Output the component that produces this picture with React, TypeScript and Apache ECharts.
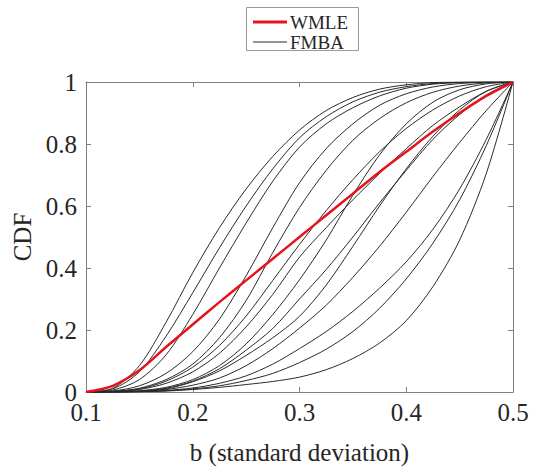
import React, { useEffect, useRef } from "react";
import * as echarts from "echarts";

// b (standard deviation) sample positions
const bValues = [0.1, 0.125, 0.15, 0.175, 0.2, 0.225, 0.25, 0.275, 0.3, 0.325, 0.35, 0.375, 0.4, 0.425, 0.45, 0.475, 0.5];

// WMLE CDF
const wmle = [0, 0.02, 0.07, 0.145, 0.218, 0.29, 0.36, 0.43, 0.5, 0.57, 0.64, 0.71, 0.775, 0.84, 0.9, 0.955, 1];

// FMBA CDFs
const fmba1 = [0, 0.012, 0.085, 0.225, 0.385, 0.53, 0.655, 0.76, 0.845, 0.908, 0.95, 0.977, 0.991, 0.998, 1, 1, 1];
const fmba2 = [0, 0.01, 0.065, 0.18, 0.32, 0.465, 0.6, 0.72, 0.82, 0.888, 0.936, 0.967, 0.985, 0.995, 0.999, 1, 1];
const fmba3 = [0, 0.006, 0.04, 0.12, 0.25, 0.4, 0.545, 0.68, 0.79, 0.865, 0.917, 0.955, 0.98, 0.993, 0.998, 1, 1];
const fmba4 = [0, 0.003, 0.02, 0.06, 0.13, 0.235, 0.375, 0.53, 0.675, 0.785, 0.865, 0.925, 0.962, 0.984, 0.995, 0.999, 1];
const fmba5 = [0, 0.002, 0.012, 0.04, 0.09, 0.175, 0.295, 0.45, 0.595, 0.715, 0.812, 0.882, 0.933, 0.967, 0.987, 0.997, 1];
const fmba6 = [0, 0.002, 0.01, 0.035, 0.08, 0.15, 0.245, 0.36, 0.476, 0.585, 0.685, 0.775, 0.85, 0.91, 0.955, 0.985, 1];
const fmba7 = [0, 0.001, 0.008, 0.028, 0.065, 0.125, 0.21, 0.315, 0.435, 0.53, 0.62, 0.705, 0.785, 0.86, 0.92, 0.97, 1];
const fmba8 = [0, 0, 0.004, 0.015, 0.04, 0.085, 0.155, 0.25, 0.362, 0.49, 0.635, 0.765, 0.865, 0.935, 0.975, 0.994, 1];
const fmba9 = [0, 0, 0.003, 0.012, 0.035, 0.075, 0.135, 0.205, 0.3, 0.395, 0.5, 0.61, 0.715, 0.815, 0.895, 0.958, 1];
const fmba10 = [0, 0, 0.003, 0.01, 0.033, 0.068, 0.118, 0.175, 0.244, 0.345, 0.47, 0.6, 0.72, 0.825, 0.91, 0.97, 1];
const fmba11 = [0, 0, 0.002, 0.008, 0.022, 0.045, 0.085, 0.14, 0.206, 0.28, 0.37, 0.47, 0.58, 0.695, 0.805, 0.908, 1];
const fmba12 = [0, 0, 0.001, 0.005, 0.013, 0.028, 0.052, 0.09, 0.14, 0.195, 0.26, 0.335, 0.42, 0.525, 0.655, 0.815, 1];
const fmba13 = [0, 0, 0.001, 0.004, 0.01, 0.02, 0.037, 0.06, 0.095, 0.138, 0.195, 0.27, 0.365, 0.48, 0.62, 0.795, 1];
const fmba14 = [0, 0, 0.001, 0.003, 0.008, 0.015, 0.024, 0.034, 0.048, 0.072, 0.108, 0.158, 0.23, 0.34, 0.49, 0.705, 1];

const fmbaCurves = [fmba1, fmba2, fmba3, fmba4, fmba5, fmba6, fmba7, fmba8, fmba9, fmba10, fmba11, fmba12, fmba13, fmba14];

const xTicks = { min: 0.1, max: 0.5, interval: 0.1 };
const yTicks = { min: 0, max: 1, interval: 0.2 };

const FONT = "Liberation Serif";
const AXIS_GRAY = "#808080";
const TEXT = "#262626";

export default function App() {
  const ref = useRef<HTMLDivElement>(null);

  useEffect(() => {
    if (!ref.current) return;
    const chart = echarts.init(ref.current, undefined, { renderer: "svg" });

    const toPairs = (ys: number[]) => bValues.map((b, i) => [b, ys[i]]);

    const blackSeries = fmbaCurves.map((c, i) => ({
      name: "FMBA",
      id: "fmba" + i,
      type: "line",
      data: toPairs(c),
      smooth: 0.3,
      showSymbol: false,
      silent: true,
      lineStyle: { color: "#2a2a2a", width: 1 },
      z: 2,
    }));

    const baseX = {
      type: "value",
      min: xTicks.min,
      max: xTicks.max,
      interval: xTicks.interval,
      splitLine: { show: false },
      axisLine: { show: true, onZero: false, lineStyle: { color: AXIS_GRAY, width: 1 } },
      axisTick: { show: true, inside: true, length: 5, lineStyle: { color: AXIS_GRAY } },
    };
    const baseY = {
      type: "value",
      min: yTicks.min,
      max: yTicks.max,
      interval: yTicks.interval,
      splitLine: { show: false },
      axisLine: { show: true, onZero: false, lineStyle: { color: AXIS_GRAY, width: 1 } },
      axisTick: { show: true, inside: true, length: 5, lineStyle: { color: AXIS_GRAY } },
    };

    chart.setOption({
      animation: false,
      backgroundColor: "#ffffff",
      textStyle: { fontFamily: FONT },
      grid: { left: 86, right: 21, top: 82, bottom: 73, containLabel: false },
      xAxis: [
        {
          ...baseX,
          position: "bottom",
          name: "b (standard deviation)",
          nameLocation: "middle",
          nameGap: 48,
          nameTextStyle: { fontFamily: FONT, fontSize: 25, color: TEXT },
          axisLabel: {
            show: true,
            margin: 11,
            lineHeight: 18,
            fontFamily: FONT,
            fontSize: 25,
            color: TEXT,
            formatter: (v: number) => v.toFixed(1),
          },
        },
        { ...baseX, position: "top", axisLabel: { show: false } },
      ],
      yAxis: [
        {
          ...baseY,
          position: "left",
          name: "CDF",
          nameLocation: "middle",
          nameRotate: 90,
          nameGap: 50,
          nameTextStyle: { fontFamily: FONT, fontSize: 25, color: TEXT },
          axisLabel: {
            show: true,
            margin: 9,
            lineHeight: 18,
            fontFamily: FONT,
            fontSize: 25,
            color: TEXT,
            formatter: (v: number) => String(parseFloat(v.toFixed(1))),
          },
        },
        { ...baseY, position: "right", axisLabel: { show: false } },
      ],
      series: [
        ...blackSeries,
        {
          name: "WMLE",
          id: "wmle",
          type: "line",
          data: toPairs(wmle),
          smooth: 0.3,
          showSymbol: false,
          silent: true,
          lineStyle: { color: "#e5131b", width: 2.5 },
          z: 5,
        },
      ],
      graphic: [
        {
          type: "rect",
          shape: { x: 246.5, y: 7.5, width: 112, height: 43 },
          style: { fill: "#ffffff", stroke: "#999999", lineWidth: 1 },
        },
        {
          type: "line",
          shape: { x1: 253, y1: 22, x2: 287, y2: 22 },
          style: { stroke: "#e5131b", lineWidth: 3 },
        },
        {
          type: "line",
          shape: { x1: 253, y1: 42, x2: 287, y2: 42 },
          style: { stroke: "#2a2a2a", lineWidth: 1 },
        },
        {
          type: "text",
          x: 290,
          y: 22,
          style: { text: "WMLE", fontFamily: FONT, fontSize: 19, fill: TEXT, verticalAlign: "middle", align: "left" },
        },
        {
          type: "text",
          x: 290,
          y: 42,
          style: { text: "FMBA", fontFamily: FONT, fontSize: 19, fill: TEXT, verticalAlign: "middle", align: "left" },
        },
      ],
    });

    return () => chart.dispose();
  }, []);

  return (
    <div
      ref={ref}
      style={{ position: "absolute", left: 0, top: 0, width: 534, height: 470, background: "#fff" }}
    />
  );
}
